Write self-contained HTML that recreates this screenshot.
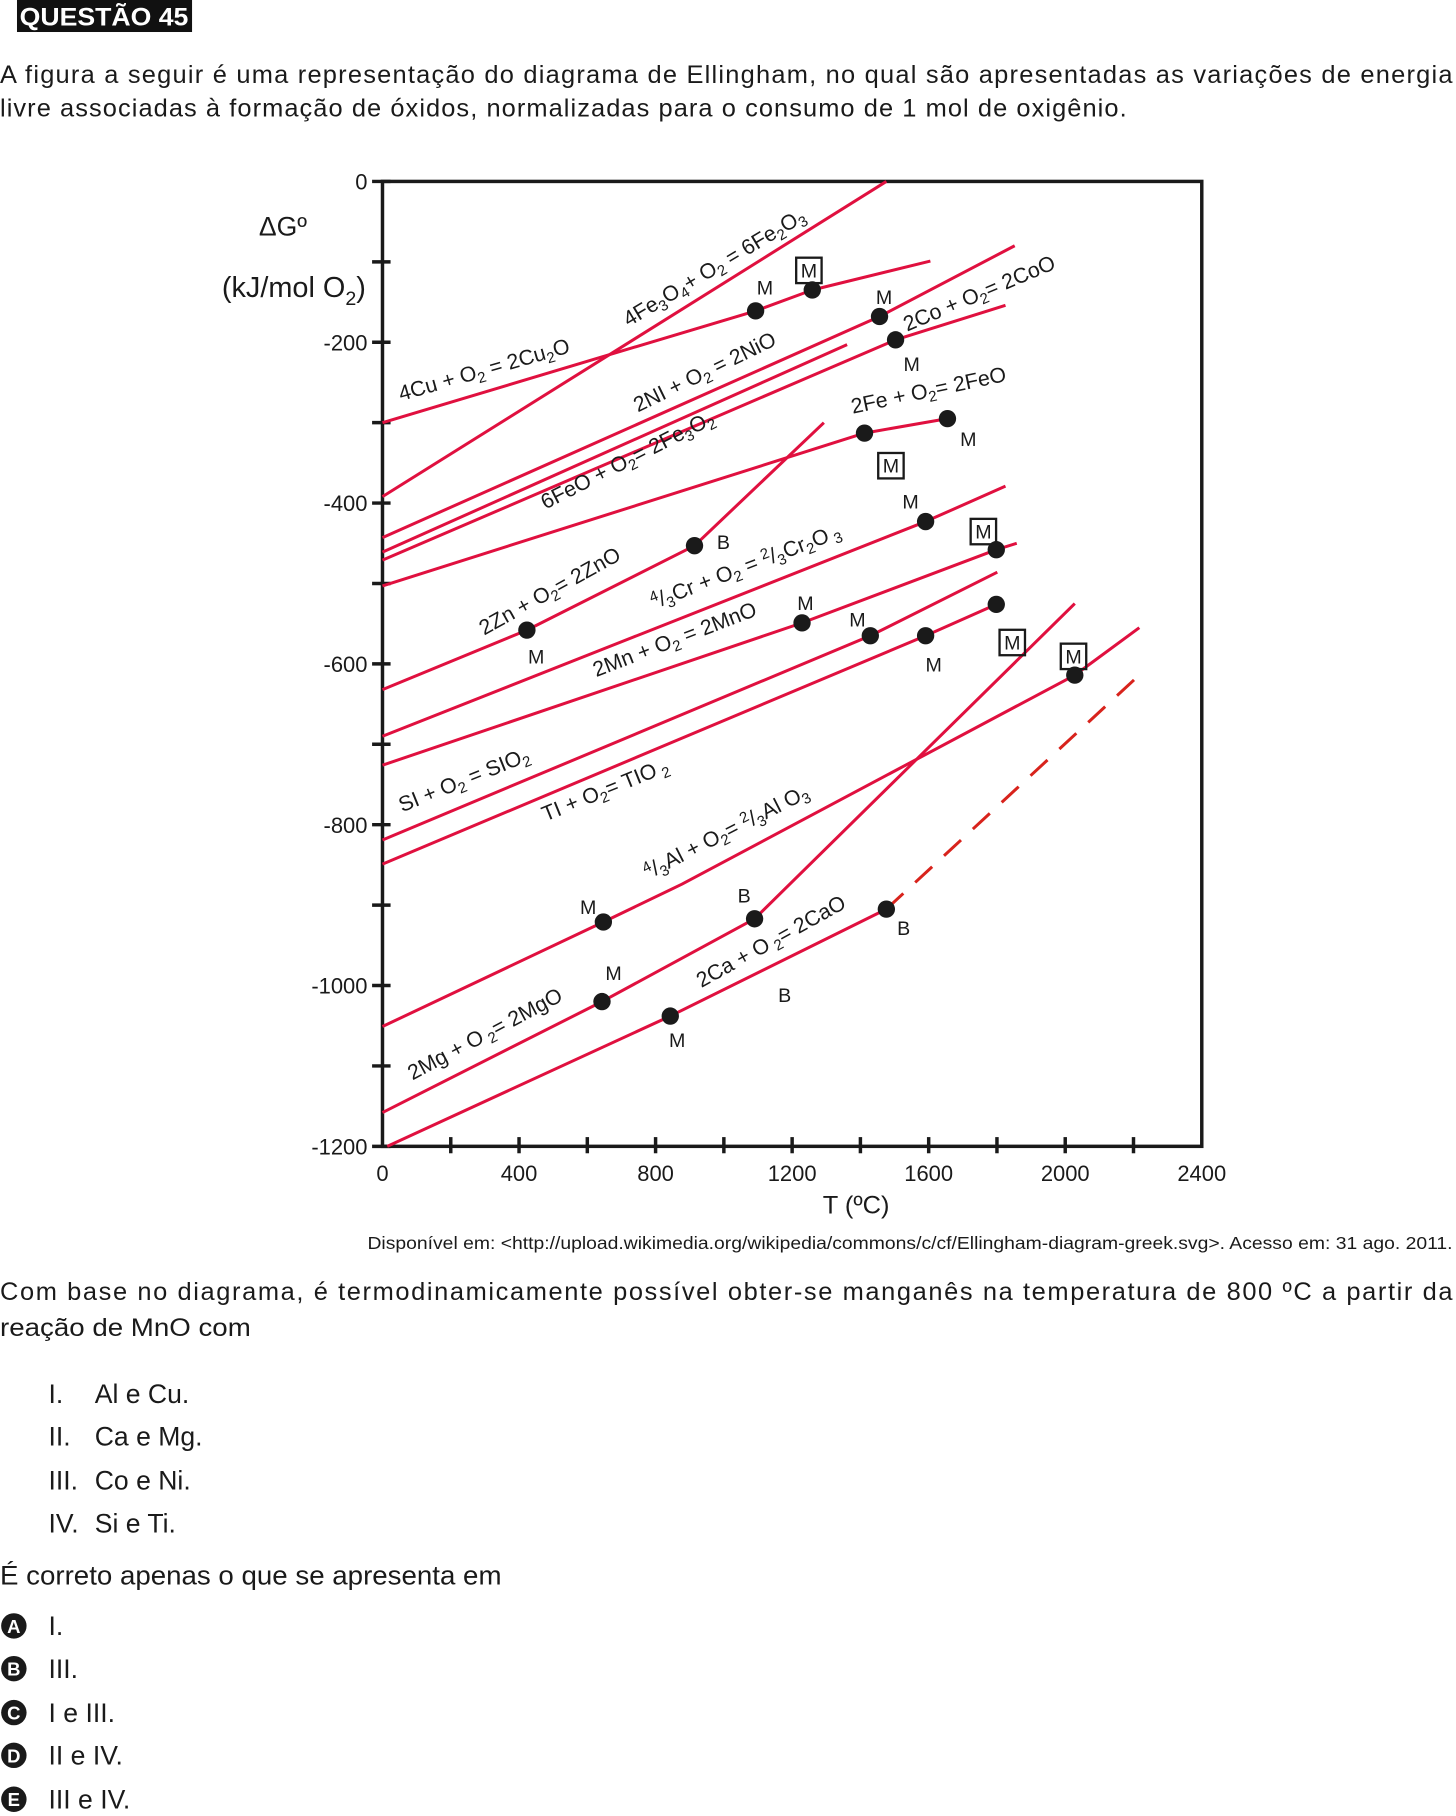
<!DOCTYPE html>
<html><head><meta charset="utf-8">
<style>
html,body{margin:0;padding:0;background:#fff;}
svg{display:block;}
text{font-family:"Liberation Sans",Arial,sans-serif;fill:#1a1a1a;}
</style></head>
<body>
<svg id="page" width="1456" height="1816" viewBox="0 0 1260 1571.5" preserveAspectRatio="none" xmlns="http://www.w3.org/2000/svg">
<g>
<rect x="14.7" y="0" width="151.5" height="27.7" fill="#111"/>
<text x="17" y="22" font-size="22" font-weight="bold" style="fill:#fff" textLength="146" lengthAdjust="spacingAndGlyphs">QUESTÃO 45</text>
</g>
<g font-size="22">
<text x="0" y="72" textLength="1257" lengthAdjust="spacing">A figura a seguir é uma representação do diagrama de Ellingham, no qual são apresentadas as variações de energia</text>
<text x="0" y="101" textLength="975" lengthAdjust="spacing">livre associadas à formação de óxidos, normalizadas para o consumo de 1 mol de oxigênio.</text>
</g>
<g id="chart"></g>
<text x="318" y="1081" font-size="15" textLength="939" lengthAdjust="spacingAndGlyphs">Disponível em: &lt;http://upload.wikimedia.org/wikipedia/commons/c/cf/Ellingham-diagram-greek.svg&gt;. Acesso em: 31 ago. 2011.</text>
<g font-size="22">
<text x="0" y="1125" textLength="1257" lengthAdjust="spacing">Com base no diagrama, é termodinamicamente possível obter-se manganês na temperatura de 800 ºC a partir da</text>
<text x="0" y="1156" textLength="217" lengthAdjust="spacingAndGlyphs">reação de MnO com</text>
</g>
<g font-size="23">
<text x="42" y="1214">I.</text><text x="82" y="1214">Al e Cu.</text>
<text x="42" y="1251">II.</text><text x="82" y="1251">Ca e Mg.</text>
<text x="42" y="1289">III.</text><text x="82" y="1289">Co e Ni.</text>
<text x="42" y="1326">IV.</text><text x="82" y="1326">Si e Ti.</text>
</g>
<text x="0" y="1371" font-size="23" textLength="434" lengthAdjust="spacingAndGlyphs">É correto apenas o que se apresenta em</text>
<g id="options"></g>
</svg>
<script>
// ---- chart data (T in °C, ΔG in kJ/mol O2) ----
var xTicks=[0,400,800,1200,1600,2000,2400];
var yTicks=[0,-200,-400,-600,-800,-1000,-1200];
var cuT=[0,1093,1259,1605], cuG=[-300,-161,-135,-99];
var fe2o3T=[0,1476], fe2o3G=[-392,0];
var niT=[0,1456,1852], niG=[-443,-168,-80];
var coT=[0,1503,1825], coG=[-471,-197,-154];
var fe3o4T=[0,1361], fe3o4G=[-461,-203];
var feoT=[0,1412,1655], feoG=[-503,-313,-295];
var znT=[0,423,914,1293], znG=[-632,-558,-453,-300];
var crT=[0,1591,1825], crG=[-690,-423,-379];
var mnT=[0,1229,1798,1858], mnG=[-726,-549,-458,-450];
var siT=[0,1429,1801], siG=[-819,-565,-486];
var tiT=[0,1591,1798], tiG=[-849,-565,-526];
var alT=[0,647,877,2028,2217], alG=[-1051,-921,-874,-614,-555];
var mgT=[0,643,1090,2028], mgG=[-1158,-1020,-917,-525];
var caT=[14,843,1476], caG=[-1200,-1038,-905];
var caDashT=[1476,2204], caDashG=[-905,-619];
var dotT=[1093,1259,1456,1503,1412,1655,423,914,1591,1229,1798,1429,1591,1798,647,2028,643,1090,843,1476];
var dotG=[-161,-135,-168,-197,-313,-295,-558,-453,-423,-549,-458,-565,-565,-526,-921,-614,-1020,-917,-1038,-905];
var ns="http://www.w3.org/2000/svg";
var X0=331,X1=1040,Y0=157,Y1=992;
function sx(t){return X0+(t-0)/2400*(X1-X0);}
function sy(g){return Y0+(0-g)/1200*(Y1-Y0);}
var chart=document.getElementById('chart');
function mk(tag,attrs,parent){var e=document.createElementNS(ns,tag);for(var k in attrs)e.setAttribute(k,attrs[k]);(parent||chart).appendChild(e);return e;}
var fr=mk('rect',{x:X0,y:Y0,width:X1-X0,height:Y1-Y0,fill:'none',stroke:'#1a1a1a','stroke-width':3});


for(var v=0;v>=-1200;v-=100){var t=mk('line',{x1:X0-9,x2:X0+7,y1:sy(v),y2:sy(v),stroke:'#1a1a1a','stroke-width':3});

}
yTicks.forEach(function(v){var t=mk('text',{x:318,y:sy(v)+7,'font-size':19,'text-anchor':'end'});t.textContent=String(v);

});
for(var u=200;u<2400;u+=200){var t=mk('line',{x1:sx(u),x2:sx(u),y1:Y1-8,y2:Y1+6,stroke:'#1a1a1a','stroke-width':3});

}
xTicks.forEach(function(v){var t=mk('text',{x:sx(v),y:1022,'font-size':19,'text-anchor':'middle'});t.textContent=String(v);

});
var xt=mk('text',{x:712,y:1050,'font-size':22});xt.textContent='T  (ºC)';


var yt1=mk('text',{x:224,y:204,'font-size':23});yt1.textContent='ΔGº';


var yt2=mk('text',{x:192,y:257,'font-size':25});yt2.innerHTML='(kJ/mol O<tspan font-size="17" dy="7">2</tspan><tspan dy="-7">)</tspan>';


function line(T,G,name,dash,color){var p=T.map(function(t,i){return sx(t)+','+sy(G[i]);}).join(' ');
var e=mk('polyline',{points:p,fill:'none',stroke:color||'#e0103f','stroke-width':2.6,'stroke-linejoin':'round'});
if(dash)e.setAttribute('stroke-dasharray','20 14');

}
line(cuT,cuG,'line-cu2o');line(fe2o3T,fe2o3G,'line-fe2o3');line(niT,niG,'line-nio');line(coT,coG,'line-coo');
line(fe3o4T,fe3o4G,'line-fe3o4');line(feoT,feoG,'line-feo');line(znT,znG,'line-zno');line(crT,crG,'line-cr2o3');
line(mnT,mnG,'line-mno');line(siT,siG,'line-sio2');line(tiT,tiG,'line-tio2');line(alT,alG,'line-al2o3');
line(mgT,mgG,'line-mgo');line(caT,caG,'line-cao');line(caDashT,caDashG,'line-cao-extrapolated',true,'#d8231c');
dotT.forEach(function(t,i){var c=mk('circle',{cx:sx(t),cy:sy(dotG[i]),r:7.5,fill:'#1a1a1a'});

});
var labels=[
[347,347,-16,'4Cu + O<tspan font-size="13" dy="4">2</tspan><tspan dy="-4"> =  2Cu</tspan><tspan font-size="13" dy="4">2</tspan><tspan dy="-4">O</tspan>'],
[544,283,-31,'4Fe<tspan font-size="13" dy="4">3</tspan><tspan dy="-4">O</tspan><tspan font-size="13" dy="4">4</tspan><tspan dy="-4">+ O</tspan><tspan font-size="13" dy="4">2</tspan><tspan dy="-4"> =  6Fe</tspan><tspan font-size="13" dy="4">2</tspan><tspan dy="-4">O</tspan><tspan font-size="13" dy="4">3</tspan>'],
[552,357,-26,'2NI + O<tspan font-size="13" dy="4">2</tspan><tspan dy="-4"> =  2NiO</tspan>'],
[785,287,-23,'2Co + O<tspan font-size="13" dy="4">2</tspan><tspan dy="-4">=  2CoO</tspan>'],
[472,441,-27,'6FeO + O<tspan font-size="13" dy="4">2</tspan><tspan dy="-4">= 2Fe</tspan><tspan font-size="13" dy="4">3</tspan><tspan dy="-4">O</tspan><tspan font-size="13" dy="4">2</tspan>'],
[738,358,-12,'2Fe + O<tspan font-size="13" dy="4">2</tspan><tspan dy="-4">=  2FeO</tspan>'],
[419,550,-29,'2Zn + O<tspan font-size="13" dy="4">2</tspan><tspan dy="-4">=  2ZnO</tspan>'],
[566,527,-21,'<tspan font-size="13" dy="-6">4</tspan><tspan dy="6">/</tspan><tspan font-size="13" dy="4">3</tspan><tspan dy="-4">Cr + O</tspan><tspan font-size="13" dy="4">2</tspan><tspan dy="-4"> = </tspan><tspan font-size="13" dy="-6">2</tspan><tspan dy="6">/</tspan><tspan font-size="13" dy="4">3</tspan><tspan dy="-4">Cr</tspan><tspan font-size="13" dy="4">2</tspan><tspan dy="-4">O</tspan><tspan font-size="13" dy="4"> 3</tspan>'],
[516,586,-21,'2Mn + O<tspan font-size="13" dy="4">2</tspan><tspan dy="-4"> =  2MnO</tspan>'],
[348,703,-22,'SI + O<tspan font-size="13" dy="4">2</tspan><tspan dy="-4"> =  SIO</tspan><tspan font-size="13" dy="4">2</tspan>'],
[472,711,-22,'TI + O<tspan font-size="13" dy="4">2</tspan><tspan dy="-4">= TIO</tspan><tspan font-size="13" dy="4"> 2</tspan>'],
[561,761,-27,'<tspan font-size="13" dy="-6">4</tspan><tspan dy="6">/</tspan><tspan font-size="13" dy="4">3</tspan><tspan dy="-4">Al + O</tspan><tspan font-size="13" dy="4">2</tspan><tspan dy="-4">= </tspan><tspan font-size="13" dy="-6">2</tspan><tspan dy="6">/</tspan><tspan font-size="13" dy="4">3</tspan><tspan dy="-4">Al O</tspan><tspan font-size="13" dy="4">3</tspan>'],
[357,935,-28,'2Mg + O<tspan font-size="13" dy="4"> 2</tspan><tspan dy="-4">=  2MgO</tspan>'],
[607,855,-29,'2Ca + O<tspan font-size="13" dy="4"> 2</tspan><tspan dy="-4">=  2CaO</tspan>']];
labels.forEach(function(l){var t=mk('text',{x:l[0],y:l[1],'font-size':18.5,transform:'rotate('+l[2]+' '+l[0]+' '+l[1]+')'});t.innerHTML=l[3];

});
var marks=[[662,255,'M',0],[700,234,'M',1],[765,263,'M',0],[789,321,'M',0],[771,403,'M',1],[838,386,'M',0],
[626,475,'B',0],[464,574,'M',0],[788,440,'M',0],[851,460,'M',1],[697,528,'M',0],[742,542,'M',0],[876,556,'M',1],
[808,581,'M',0],[929,568,'M',1],[509,791,'M',0],[644,781,'B',0],[531,848,'M',0],[782,809,'B',0],[679,867,'B',0],[586,906,'M',0]];
marks.forEach(function(m){if(m[3]){var r=mk('rect',{x:m[0]-11,y:m[1]-11,width:22,height:22,fill:'none',stroke:'#1a1a1a','stroke-width':2});

}
var t=mk('text',{x:m[0],y:m[1]+(m[3]?6:0),'font-size':17,'text-anchor':'middle'});t.textContent=m[2];

});
var opts=document.getElementById('options');
var letters=['A','B','C','D','E'],texts=['I.','III.','I e III.','II e IV.','III e IV.'],ys=[1415,1452,1490,1527,1565];
letters.forEach(function(L,i){var g=mk('g',{},opts);


mk('circle',{cx:12,cy:ys[i]-8,r:11,fill:'#1a1a1a'},g);
var l=mk('text',{x:12,y:ys[i]-2,'font-size':16,'font-weight':'bold','text-anchor':'middle',style:'fill:#fff'},g);l.textContent=L;
var t=mk('text',{x:42,y:ys[i],'font-size':23},g);t.textContent=texts[i];});
</script>
</body></html>
